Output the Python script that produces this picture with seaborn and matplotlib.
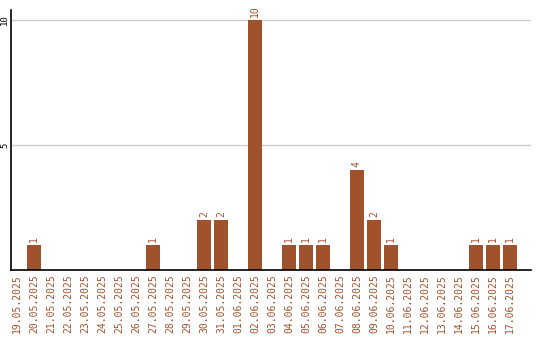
import matplotlib
matplotlib.use("Agg")
import matplotlib.pyplot as plt
import seaborn as sns
import pandas as pd

dates = ["19.05.2025", "20.05.2025", "21.05.2025", "22.05.2025", "23.05.2025",
         "24.05.2025", "25.05.2025", "26.05.2025", "27.05.2025", "28.05.2025",
         "29.05.2025", "30.05.2025", "31.05.2025", "01.06.2025", "02.06.2025",
         "03.06.2025", "04.06.2025", "05.06.2025", "06.06.2025", "07.06.2025",
         "08.06.2025", "09.06.2025", "10.06.2025", "11.06.2025", "12.06.2025",
         "13.06.2025", "14.06.2025", "15.06.2025", "16.06.2025", "17.06.2025"]
values = [0, 1, 0, 0, 0, 0, 0, 0, 1, 0,
          0, 2, 2, 0, 10, 0, 1, 1, 1, 0,
          4, 2, 1, 0, 0, 0, 0, 1, 1, 1]
y_ticks = [5, 10]

color = "#A0522D"
sns.set_theme(style="white")
plt.rcParams['font.family'] = ['DejaVu Sans Mono']

df = pd.DataFrame({"date": dates, "value": values})
fig = plt.figure(figsize=(5.4, 3.4), dpi=100)
ax = fig.add_axes([10.5/540, 70/340, 520.5/540, 260/340])
sns.barplot(data=df, x="date", y="value", color=color, saturation=1, width=0.82,
            linewidth=0, ax=ax, zorder=3)
ax.set_xlim(-0.38, 30.235)
ax.set_ylim(0, 10.4)
ax.set_yticks(y_ticks)
ax.set_yticklabels([str(t) for t in y_ticks], rotation=90, va="center", fontsize=6.5, color="black")
ax.tick_params(axis="y", length=0, pad=1)
ax.tick_params(axis="x", length=0, pad=3)
ax.set_xticks(range(len(dates)))
ax.set_xticklabels(dates, rotation=90, fontsize=7, color=color)
ax.grid(axis="y", color="#cccccc", linewidth=1, zorder=0)
ax.set_xlabel("")
ax.set_ylabel("")
for s in ["top", "right"]:
    ax.spines[s].set_visible(False)
for s in ["left", "bottom"]:
    ax.spines[s].set_color("black")
    ax.spines[s].set_linewidth(1.2)
    ax.spines[s].set_zorder(4)
for i, v in enumerate(values):
    if v > 0:
        ax.text(i, v + 0.12, str(v), rotation=90, ha="center", va="bottom", fontsize=7, color=color)
fig.savefig("out.png", dpi=100)
